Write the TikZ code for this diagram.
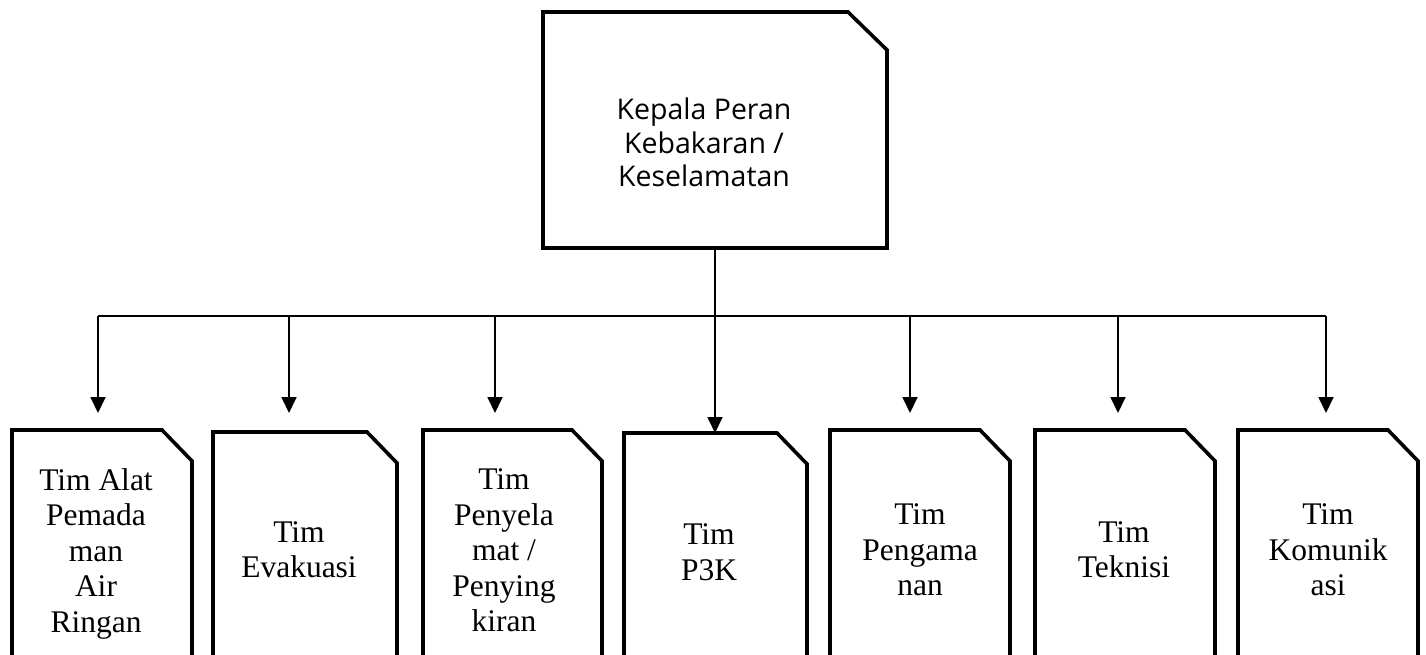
\documentclass[tikz,border=0pt]{standalone}
\usepackage{fontspec}
\newfontfamily\topfont{Open Sans}
\newfontfamily\boxfont{Liberation Serif}
\usetikzlibrary{arrows.meta}
\begin{document}
\begin{tikzpicture}[x=1pt,y=-1pt,
  boxline/.style={line width=3.6pt,line join=miter},
  conn/.style={line width=1.8pt},
  arr/.style={conn,-{Triangle[length=16pt,width=15pt]}},
  frame/.style={inner sep=0pt,outer sep=0pt,draw=none,anchor=north west},
  lbl/.style={font=\boxfont\fontsize{31.5}{35.5}\selectfont,align=center,inner sep=0pt},
  toplbl/.style={font=\topfont\fontsize{28.5}{33.5}\selectfont,align=center,inner sep=0pt}]
\useasboundingbox[fill=white] (0,0) rectangle (1426,655);

% boxes
\node[frame,minimum width=344pt,minimum height=236pt] (top) at (543,12) {};
\node[frame,minimum width=180pt,minimum height=260pt] (b1) at (12,430) {};
\node[frame,minimum width=184pt,minimum height=258pt] (b2) at (213,432) {};
\node[frame,minimum width=179pt,minimum height=260pt] (b3) at (423,430) {};
\node[frame,minimum width=183pt,minimum height=257pt] (b4) at (624,433) {};
\node[frame,minimum width=180pt,minimum height=260pt] (b5) at (830,430) {};
\node[frame,minimum width=180pt,minimum height=260pt] (b6) at (1035,430) {};
\node[frame,minimum width=180pt,minimum height=260pt] (b7) at (1238,430) {};

\draw[boxline] (top.south west) -- (top.north west) -- ([xshift=-39pt]top.north east)
  -- ([yshift=-38pt]top.north east) -- (top.south east) -- cycle;
\foreach \b in {b1,b2,b3,b4,b5,b6,b7}{
  \draw[boxline] (\b.south west) -- (\b.north west) -- ([xshift=-30pt]\b.north east)
    -- ([yshift=-31pt]\b.north east) -- (\b.south east);
}

% labels
\node[toplbl] (tt) at (704,142.5) {Kepala Peran\\Kebakaran /\\Keselamatan};
\node[lbl] (t1) at (96,553.5) {Tim Alat\\Pemada\\man\\Air\\Ringan};
\node[lbl] (t2) at (299,549.5) {Tim\\Evakuasi};
\node[lbl] (t3) at (504,550.3) {Tim\\Penyela\\mat /\\Penying\\kiran};
\node[lbl] (t4) at (709,552) {Tim\\P3K};
\node[lbl] (t5) at (920,549.8) {Tim\\Pengama\\nan};
\node[lbl] (t6) at (1124,549.5) {Tim\\Teknisi};
\node[lbl] (t7) at (1328,549.8) {Tim\\Komunik\\asi};

% connectors
\coordinate (j1) at (98,316);
\coordinate (j2) at (289,316);
\coordinate (j3) at (495,316);
\coordinate (j5) at (910,316);
\coordinate (j6) at (1118,316);
\coordinate (j7) at (1326,316);
\coordinate (e1) at (98,413);
\coordinate (e2) at (289,413);
\coordinate (e3) at (495,413);
\coordinate (e5) at (910,413);
\coordinate (e6) at (1118,413);
\coordinate (e7) at (1326,413);

\draw[conn] (j1) -- (j7);
\draw[arr] (top.south) -- (top.south |- b4.north);
\foreach \i in {1,2,3,5,6,7}{
  \draw[arr] (j\i) -- (e\i);
}
\end{tikzpicture}
\end{document}
